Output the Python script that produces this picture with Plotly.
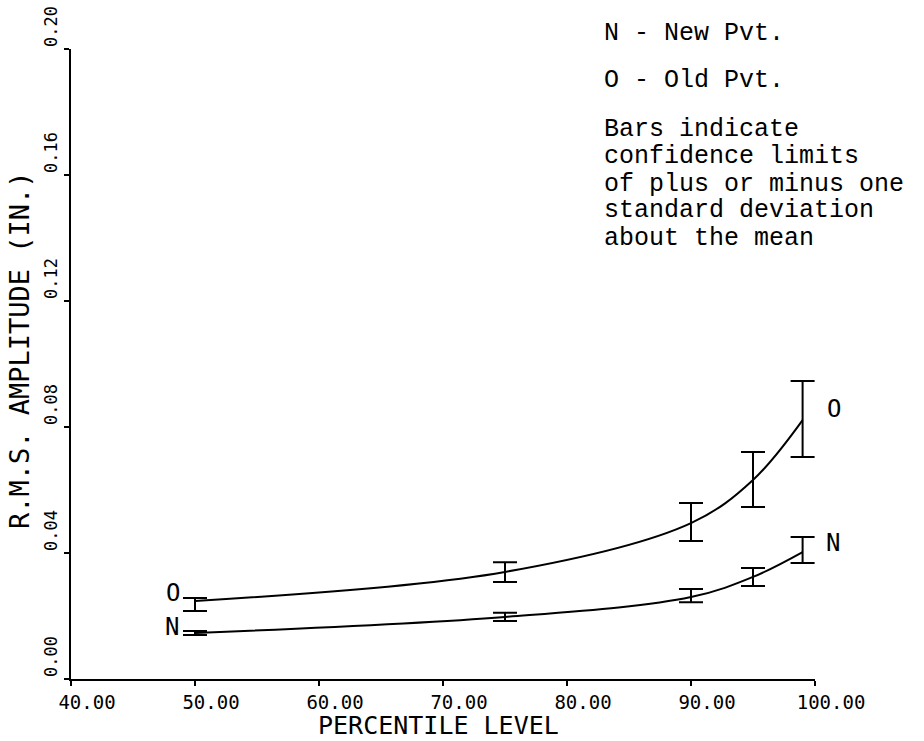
import plotly.graph_objects as go

# Percentile levels at which the RMS amplitude was evaluated
percentile = [50, 75, 90, 95, 99]

# Old pavement: mean RMS amplitude (in.) and +/- one standard deviation limits
old_mean = [0.0248, 0.0340, 0.0495, 0.0632, 0.0822]
old_upper = [0.0257, 0.0371, 0.0559, 0.0721, 0.0946]
old_lower = [0.0216, 0.0308, 0.0438, 0.0546, 0.0705]

# New pavement
new_mean = [0.0146, 0.0197, 0.0260, 0.0324, 0.0403]
new_upper = [0.0152, 0.0210, 0.0286, 0.0352, 0.0451]
new_lower = [0.0140, 0.0184, 0.0244, 0.0295, 0.0368]

x_ticks = [40, 50, 60, 70, 80, 90, 100]
y_ticks = [0.00, 0.04, 0.08, 0.12, 0.16, 0.20]

x_title = "PERCENTILE LEVEL"
y_title = "R.M.S. AMPLITUDE (IN.)"

legend_lines = [
    "N - New Pvt.",
    "O - Old Pvt.",
    "Bars indicate",
    "confidence limits",
    "of plus or minus one",
    "standard deviation",
    "about the mean",
]

PLOT_FONT = "DejaVu Sans Mono"
TYPE_FONT = "Liberation Mono"

# Plot area in pixels (left, right, top, bottom)
PX_L, PX_R, PX_T, PX_B = 71, 815, 49, 679


def paper_x(px):
    return (px - PX_L) / (PX_R - PX_L)


def paper_y(py):
    return (PX_B - py) / (PX_B - PX_T)


def series(mean, upper, lower):
    return go.Scatter(
        x=percentile,
        y=mean,
        mode="lines",
        line=dict(color="black", width=2, shape="spline", smoothing=1),
        error_y=dict(
            type="data",
            symmetric=False,
            array=[u - m for u, m in zip(upper, mean)],
            arrayminus=[m - l for m, l in zip(mean, lower)],
            color="black",
            thickness=2,
            width=12,
        ),
        showlegend=False,
        hoverinfo="skip",
    )


fig = go.Figure()
fig.add_trace(series(old_mean, old_upper, old_lower))
fig.add_trace(series(new_mean, new_upper, new_lower))

# Curve identifiers at both ends of each line
curve_labels = [
    ("O", 173, 593),
    ("N", 172, 627),
    ("O", 834, 409),
    ("N", 833, 543),
]
for text, px, py in curve_labels:
    fig.add_annotation(
        x=paper_x(px), y=paper_y(py), xref="paper", yref="paper",
        text=text, showarrow=False,
        font=dict(family=PLOT_FONT, size=24, color="black"),
        xanchor="center", yanchor="middle",
    )

# Key and explanatory note, typed in the upper right
line_y = [33, 80, 129, 157, 184, 211, 238]
for text, py in zip(legend_lines, line_y):
    fig.add_annotation(
        x=paper_x(602), y=paper_y(py), xref="paper", yref="paper",
        text=text, showarrow=False,
        font=dict(family=TYPE_FONT, size=25, color="black"),
        xanchor="left", yanchor="middle", height=25,
    )

# Axis titles
fig.add_annotation(
    x=paper_x(438), y=paper_y(741), xref="paper", yref="paper",
    text=x_title, showarrow=False, borderpad=0,
    font=dict(family=PLOT_FONT, size=25, color="black"),
    xanchor="center", yanchor="bottom",
)
fig.add_annotation(
    x=paper_x(19), y=paper_y(350), xref="paper", yref="paper",
    text=y_title, showarrow=False, textangle=-90,
    font=dict(family=PLOT_FONT, size=27, color="black"),
    xanchor="center", yanchor="middle",
)

axis_common = dict(
    tickformat=".2f",
    ticks="outside",
    ticklen=5,
    tickwidth=2,
    tickcolor="black",
    showline=True,
    linecolor="black",
    linewidth=2,
    showgrid=False,
    zeroline=False,
    automargin=False,
)

fig.update_layout(
    width=924,
    height=741,
    margin=dict(l=PX_L, r=924 - PX_R, t=PX_T, b=741 - PX_B),
    paper_bgcolor="white",
    plot_bgcolor="white",
    xaxis=dict(
        range=[40, 100],
        tickvals=x_ticks,
        tickfont=dict(family=PLOT_FONT, size=19, color="black"),
        ticklabelshift=16,
        ticklabelstandoff=0,
        **axis_common,
    ),
    yaxis=dict(
        range=[0, 0.20],
        tickvals=y_ticks,
        tickangle=-90,
        tickfont=dict(family=PLOT_FONT, size=17, color="black"),
        ticklabelshift=-20,
        **axis_common,
    ),
)

fig.write_html("out.html")
